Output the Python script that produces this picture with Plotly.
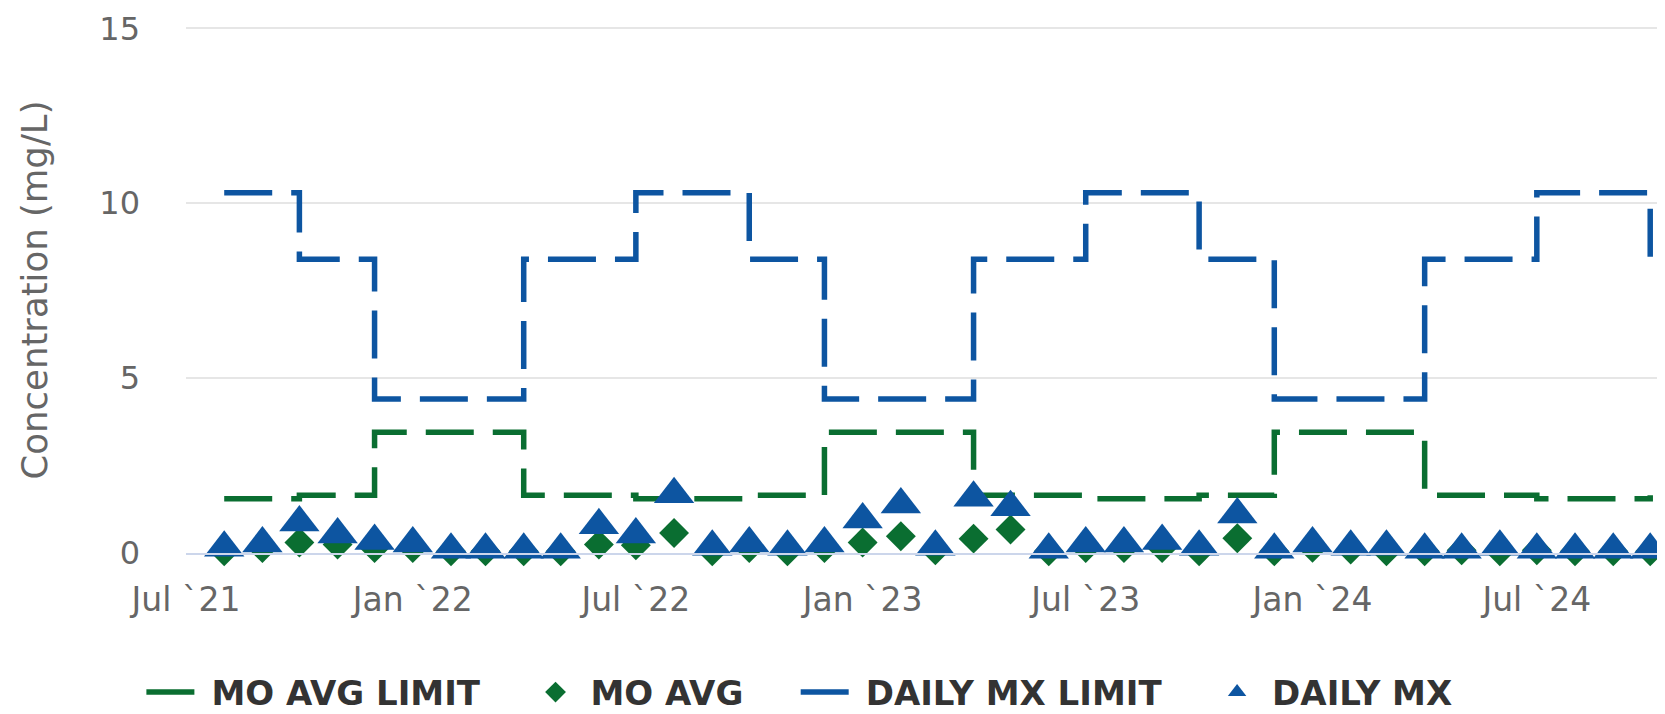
import plotly.graph_objects as go

dates = [
    "2021-08-01", "2021-09-01", "2021-10-01", "2021-11-01", "2021-12-01",
    "2022-01-01", "2022-02-01", "2022-03-01", "2022-04-01", "2022-05-01", "2022-06-01",
    "2022-07-01", "2022-08-01", "2022-09-01", "2022-10-01", "2022-11-01", "2022-12-01",
    "2023-01-01", "2023-02-01", "2023-03-01", "2023-04-01", "2023-05-01", "2023-06-01",
    "2023-07-01", "2023-08-01", "2023-09-01", "2023-10-01", "2023-11-01", "2023-12-01",
    "2024-01-01", "2024-02-01", "2024-03-01", "2024-04-01", "2024-05-01", "2024-06-01",
    "2024-07-01", "2024-08-01", "2024-09-01", "2024-10-01",
]

daily_mx = [
    0.15, 0.27, 0.87, 0.53, 0.34,
    0.27, 0.09, 0.09, 0.09, 0.09, 0.79,
    0.53, 1.68, 0.18, 0.27, 0.18, 0.27,
    0.96, 1.39, 0.18, 1.58, 1.31, 0.09,
    0.27, 0.27, 0.34, 0.18, 1.10, 0.09,
    0.27, 0.18, 0.18, 0.09, 0.09, 0.18,
    0.09, 0.09, 0.09, 0.09,
]

mo_avg = [
    0.05, 0.14, 0.30, 0.24, 0.14,
    0.14, 0.05, 0.05, 0.05, 0.05, 0.24,
    0.22, 0.57, 0.05, 0.14, 0.05, 0.14,
    0.30, 0.48, 0.08, 0.41, 0.67, 0.05,
    0.14, 0.14, 0.14, 0.05, 0.42, 0.05,
    0.15, 0.10, 0.05, 0.05, 0.08, 0.05,
    0.08, 0.05, 0.05, 0.05,
]

daily_mx_limit = [
    10.3, 10.3, 8.4, 8.4, 4.4,
    4.4, 4.4, 4.4, 8.4, 8.4, 8.4,
    10.3, 10.3, 10.3, 8.4, 8.4, 4.4,
    4.4, 4.4, 4.4, 8.4, 8.4, 8.4,
    10.3, 10.3, 10.3, 8.4, 8.4, 4.4,
    4.4, 4.4, 4.4, 8.4, 8.4, 8.4,
    10.3, 10.3, 10.3, 8.4,
]

mo_avg_limit = [
    1.55, 1.55, 1.65, 1.65, 3.45,
    3.45, 3.45, 3.45, 1.65, 1.65, 1.65,
    1.55, 1.55, 1.55, 1.65, 1.65, 3.45,
    3.45, 3.45, 3.45, 1.65, 1.65, 1.65,
    1.55, 1.55, 1.55, 1.65, 1.65, 3.45,
    3.45, 3.45, 3.45, 1.65, 1.65, 1.65,
    1.55, 1.55, 1.55, 1.65,
]

series_names = ["MO AVG LIMIT", "MO AVG", "DAILY MX LIMIT", "DAILY MX"]
NB = "\u00a0"
legend_pad = [3, 4, 3, 0]
legend_labels = [n + NB * p for n, p in zip(series_names, legend_pad)]

GREEN = "#0a6e31"
BLUE = "#0d55a1"
FONT = "DejaVu Sans"

# page body has an 8px default margin; figure is sized so it ends at the window edge
W, H = 1657, 706

fig = go.Figure()
fig.add_trace(go.Scatter(
    x=dates, y=mo_avg_limit, name=legend_labels[0], mode="lines",
    line=dict(color=GREEN, width=5.5, dash="48px,19px", shape="hv"),
    cliponaxis=False,
))
fig.add_trace(go.Scatter(
    x=dates, y=mo_avg, name=legend_labels[1], mode="markers",
    marker=dict(symbol="diamond", size=23, color=GREEN, line=dict(width=0)),
    cliponaxis=False,
))
fig.add_trace(go.Scatter(
    x=dates, y=daily_mx_limit, name=legend_labels[2], mode="lines",
    line=dict(color=BLUE, width=5.5, dash="48px,19px", shape="hv"),
    cliponaxis=False,
))
fig.add_trace(go.Scatter(
    x=dates, y=daily_mx, name=legend_labels[3], mode="markers",
    marker=dict(symbol="triangle-up", size=35, color=BLUE, line=dict(width=0)),
    cliponaxis=False,
))

fig.update_layout(
    width=W, height=H,
    margin=dict(l=178, r=0, t=19, b=161, autoexpand=False),
    paper_bgcolor="white", plot_bgcolor="white",
    font=dict(family=FONT, color="#666666"),
    showlegend=True,
    legend=dict(
        orientation="h", xref="container", yref="container",
        x=0.0805, xanchor="left", y=0.0715, yanchor="top",
        font=dict(family=FONT, size=34, color="#333333", weight="bold"),
        itemwidth=60, itemsizing="trace",
        bgcolor="rgba(0,0,0,0)",
    ),
    xaxis=dict(
        type="date", range=["2021-07-01", "2024-10-13"],
        tick0="2021-07-01", dtick="M6", tickformat="%b `%y",
        showgrid=False, showline=True, linecolor="#ccd6eb", linewidth=2,
        ticks="", ticklabelstandoff=16,
        tickfont=dict(family=FONT, size=33, color="#666666"),
        zeroline=False,
    ),
    yaxis=dict(
        range=[0, 15.04], dtick=5, tick0=0,
        showgrid=True, gridcolor="#e6e6e6", gridwidth=2,
        zeroline=False, showline=False, ticks="",
        ticklabelstandoff=45,
        tickfont=dict(family=FONT, size=32, color="#666666"),
        title=dict(text="Concentration (mg/L)", font=dict(family=FONT, size=35.5, color="#666666"), standoff=40),
    ),
)

fig.write_html("out.html")
